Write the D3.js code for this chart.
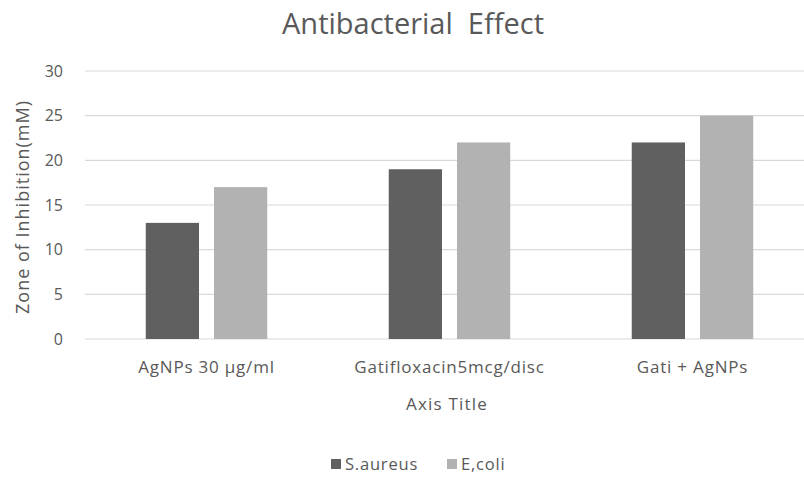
<!DOCTYPE html>
<html>
<head>
<meta charset="utf-8">
<script src="https://cdn.jsdelivr.net/npm/d3@7"></script>
<style>
  html, body { margin: 0; padding: 0; background: #fff; }
  svg { display: block; }
  text { font-family: "Open Sans", "Noto Sans", sans-serif; fill: #595959; }
</style>
</head>
<body>
<svg id="chart" width="804" height="477"></svg>
<script>
const categories = ["AgNPs 30 µg/ml", "Gatifloxacin5mcg/disc", "Gati + AgNPs"];
const seriesNames = ["S.aureus", "E,coli"];
const sAureus = [13, 19, 22];
const eColi = [17, 22, 25];
const yTicks = [0, 5, 10, 15, 20, 25, 30];
const seriesColors = ["#606060", "#b2b2b2"];

const seriesValues = [sAureus, eColi];
const data = categories.map((c, i) => ({
  category: c,
  values: seriesNames.map((s, j) => ({ series: s, value: seriesValues[j][i], color: seriesColors[j] }))
}));

const svg = d3.select("#chart");
const plotLeft = 85, plotRight = 814, plotTop = 71, plotBottom = 339;

const x0 = d3.scaleBand().domain(categories).range([plotLeft, plotRight]).paddingInner(0.5).paddingOuter(0.25);
const x1 = d3.scaleBand().domain(seriesNames).range([0, x0.bandwidth()]).paddingInner(0.22).paddingOuter(0);
const y = d3.scaleLinear().domain([0, 30]).range([plotBottom, plotTop]);

// Gridlines
svg.append("g").selectAll("line").data(yTicks).join("line")
  .attr("x1", plotLeft).attr("x2", plotRight)
  .attr("y1", d => y(d)).attr("y2", d => y(d))
  .attr("stroke", "#d9d9d9").attr("stroke-width", 1.2);

// Y axis labels
const yAxis = d3.axisLeft(y).tickValues(yTicks).tickSize(0).tickPadding(0);
const gy = svg.append("g").attr("transform", `translate(63,0)`).call(yAxis);
gy.select(".domain").remove();
gy.selectAll("text").attr("font-size", 16).style("fill", "#595959")
  .style("font-family", '"Open Sans", sans-serif');

// Bars
const groups = svg.append("g").selectAll("g").data(data).join("g")
  .attr("transform", d => `translate(${x0(d.category)},0)`);
groups.selectAll("rect").data(d => d.values).join("rect")
  .attr("x", d => x1(d.series))
  .attr("width", x1.bandwidth())
  .attr("y", d => y(d.value))
  .attr("height", d => y(0) - y(d.value))
  .attr("fill", d => d.color);

// X axis labels
const xAxis = d3.axisBottom(x0).tickSize(0).tickPadding(0);
const gx = svg.append("g").attr("transform", `translate(0,373)`).call(xAxis);
gx.select(".domain").remove();
gx.selectAll("text").attr("font-size", 17).attr("dy", 0).style("fill", "#595959")
  .style("font-family", '"Open Sans", sans-serif').style("letter-spacing", "0.8px");

// Title
svg.append("text").attr("x", 413).attr("y", 34).attr("text-anchor", "middle")
  .attr("font-size", 29).style("white-space", "pre").text("Antibacterial  Effect");

// Axis titles
svg.append("text").attr("x", 447).attr("y", 410).attr("text-anchor", "middle")
  .attr("font-size", 17).style("letter-spacing", "1.2px").text("Axis Title");
svg.append("text").attr("transform", `translate(29,207) rotate(-90)`).attr("text-anchor", "middle")
  .attr("font-size", 18).style("letter-spacing", "1px").text("Zone of Inhibition(mM)");

// Legend
const legendX = [331, 447];
const leg = svg.append("g").selectAll("g").data(seriesNames).join("g")
  .attr("transform", (d, i) => `translate(${legendX[i]},459)`);
leg.append("rect").attr("width", 10).attr("height", 10).attr("fill", (d, i) => seriesColors[i]);
leg.append("text").attr("x", 14).attr("y", 11).attr("font-size", 16.5).style("letter-spacing", "0.8px").text(d => d);
</script>
</body>
</html>
